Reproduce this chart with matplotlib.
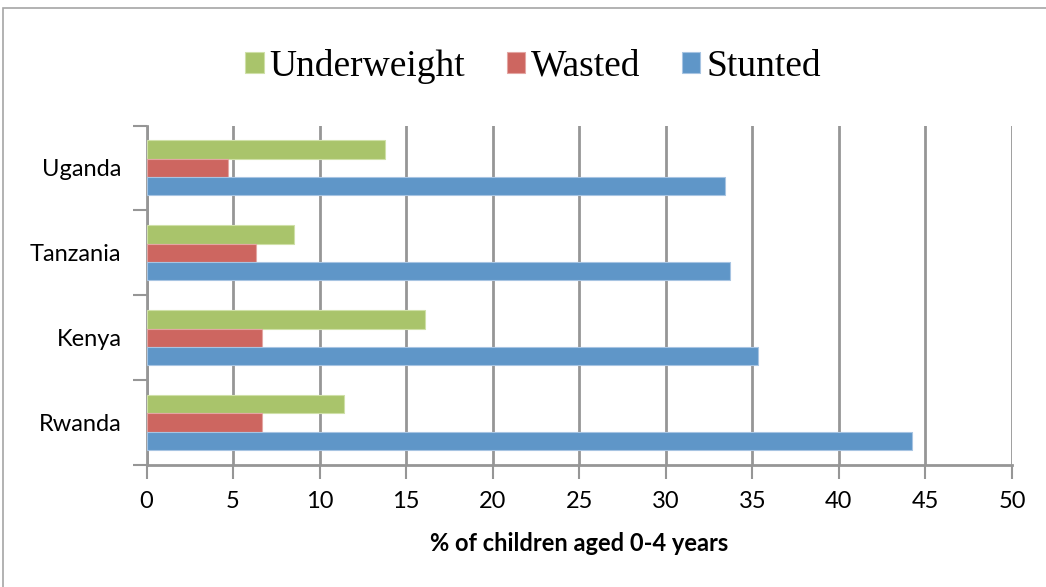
import numpy as np
import matplotlib.pyplot as plt
from matplotlib.ticker import FixedLocator, NullFormatter
from matplotlib.patches import Rectangle

## Data:
countries = ["Rwanda", "Kenya", "Tanzania", "Uganda"]
underweight = [11.4, 16.1, 8.5, 13.8]
wasted = [6.7, 6.7, 6.3, 4.7]
stunted = [44.2, 35.3, 33.7, 33.4]

## Figure:
fig = plt.figure(figsize=(10.46, 5.87), dpi=100)
ax = fig.add_axes([146.5 / 1046, 1 - 465 / 587, (1012 - 146.5) / 1046, (465 - 125.5) / 587])

# outer chart border
fig.patches.append(Rectangle((3 / 1046, -0.01), 1.1, 1 - 8 / 587 + 0.01, transform=fig.transFigure,
                             fill=False, edgecolor="#a6a6a6", linewidth=1.2))

y = np.arange(len(countries))
h = 0.216
ax.barh(y + h, underweight, height=h, color="#a9c46b", edgecolor="#cfe0a8", linewidth=0.8,
        label="Underweight", zorder=3)
ax.barh(y, wasted, height=h, color="#cd6660", edgecolor="#e3a6a3", linewidth=0.8,
        label="Wasted", zorder=3)
ax.barh(y - h, stunted, height=h, color="#5f96c8", edgecolor="#a7c4e2", linewidth=0.8,
        label="Stunted", zorder=3)

## Axes styling:
ax.set_xlim(0, 50)
ax.set_ylim(-0.5, 3.5)
ax.set_xticks(np.arange(0, 51, 5))
ax.set_yticks(y)
ax.set_yticklabels(countries)
ax.yaxis.set_minor_locator(FixedLocator(np.arange(-0.5, 4, 1)))
ax.yaxis.set_minor_formatter(NullFormatter())
ax.tick_params(axis="y", which="major", length=0, pad=18, labelsize=17)
ax.tick_params(axis="y", which="minor", length=10, width=1.5, color="#969696")
ax.tick_params(axis="x", length=10, width=1.5, color="#969696", pad=9, labelsize=17)
for lab in ax.get_xticklabels() + ax.get_yticklabels():
    lab.set_fontfamily("Lato")

ax.grid(axis="x", color="#969696", linewidth=2, zorder=0)
for s in ["top", "right"]:
    ax.spines[s].set_visible(False)
for s in ["left", "bottom"]:
    ax.spines[s].set_color("#969696")
    ax.spines[s].set_linewidth(2)

ax.set_xlabel("% of children aged 0-4 years", fontsize=17, fontweight="bold",
              fontfamily="Lato", labelpad=14)

leg = fig.legend(loc="center", bbox_to_anchor=(533 / 1046, 1 - 66 / 587), ncol=3, frameon=False,
                 prop={"family": "Liberation Serif", "size": 27}, handlelength=0.5,
                 handleheight=0.5, handletextpad=0.15, columnspacing=1.1)

fig.savefig("out.png", dpi=100)
